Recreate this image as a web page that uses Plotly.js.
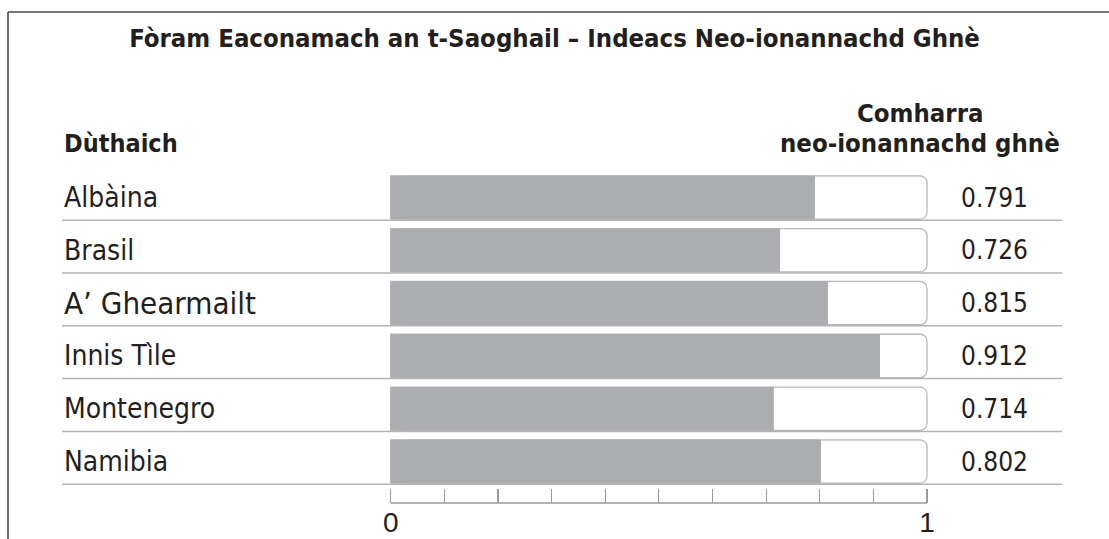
<!DOCTYPE html>
<html>
<head>
<meta charset="utf-8">
<script src="https://cdn.plot.ly/plotly-3.0.1.min.js"></script>
<style>
  html, body { margin: 0; padding: 0; background: #fff; }
  #chart { width: 1109px; height: 539px; }
</style>
</head>
<body>
<div id="chart"></div>
<script>
// ---- data ----
const chartTitle = "Fòram Eaconamach an t-Saoghail – Indeacs Neo-ionannachd Ghnè";
const categoryHeader = "Dùthaich";
const valueHeaderLines = ["Comharra", "neo-ionannachd ghnè"];
const countries = ["Albàina", "Brasil", "A’ Ghearmailt", "Innis Tìle", "Montenegro", "Namibia"];
const scores = [0.791, 0.726, 0.815, 0.912, 0.714, 0.802];
const scaleMax = 1;
const tickValues = [0, 0.1, 0.2, 0.3, 0.4, 0.5, 0.6, 0.7, 0.8, 0.9, 1];
const tickLabels = ["0", "", "", "", "", "", "", "", "", "", "1"];

// ---- styling ----
const W = 1109, H = 539;
const px = v => v / W;            // pixel x -> paper
const py = v => 1 - v / H;        // pixel y -> paper
const textColor = "#231f20";
const barGray = "#acadb0";
const trackLine = "#b8b8b8";
const sepColor = "#b3b3b3";
const font = "DejaVu Sans Condensed, DejaVu Sans, Noto Sans, sans-serif";
const labelSize = {"A’ Ghearmailt": 31};
const squareInset = 0.02;

const trackTrace = {
  type: "bar", orientation: "h",
  y: countries, x: countries.map(() => scaleMax),
  width: 0.82,
  marker: { color: "#ffffff", line: { color: trackLine, width: 1.3 }, cornerradius: 7 },
  hoverinfo: "skip", showlegend: false
};
const fillTrace = {
  type: "bar", orientation: "h",
  y: countries, x: scores,
  width: 0.82,
  marker: { color: barGray, line: { width: 0 }, cornerradius: 7 },
  hoverinfo: "skip", showlegend: false
};
const squareTrace = {
  type: "bar", orientation: "h",
  y: countries, x: scores.map(v => v - squareInset), base: squareInset,
  width: 0.82,
  marker: { color: barGray, line: { width: 0 } },
  hoverinfo: "skip", showlegend: false
};

const annotations = [];
countries.forEach((c, i) => {
  annotations.push({
    xref: "paper", yref: "y", x: px(62), y: c, xanchor: "left", yanchor: "middle",
    text: c, showarrow: false,
    font: { family: font, size: labelSize[c] || 28, color: textColor }
  });
  annotations.push({
    xref: "paper", yref: "y", x: px(995), y: c, xanchor: "center", yanchor: "middle",
    text: scores[i].toFixed(3), showarrow: false,
    font: { family: font, size: 26, color: textColor }
  });
});
annotations.push({
  xref: "paper", yref: "paper", x: px(62), y: py(143), xanchor: "left", yanchor: "middle",
  text: "<b>" + categoryHeader + "</b>", showarrow: false,
  font: { family: font, size: 25, color: textColor }
});
annotations.push({
  xref: "paper", yref: "paper", x: px(920), y: py(113), xanchor: "center", yanchor: "middle",
  text: "<b>" + valueHeaderLines[0] + "</b>", showarrow: false,
  font: { family: font, size: 25.5, color: textColor }
});
annotations.push({
  xref: "paper", yref: "paper", x: px(920), y: py(143), xanchor: "center", yanchor: "middle",
  text: "<b>" + valueHeaderLines[1] + "</b>", showarrow: false,
  font: { family: font, size: 25.5, color: textColor }
});

const shapes = [];
// outer frame (top + left)
shapes.push({ type: "line", xref: "paper", yref: "paper", x0: px(8), x1: 1, y0: py(12), y1: py(12),
  line: { color: "#4a4a4a", width: 1.6 } });
shapes.push({ type: "line", xref: "paper", yref: "paper", x0: px(8), x1: px(8), y0: py(12), y1: 0,
  line: { color: "#4a4a4a", width: 1.6 } });
// row separators
countries.forEach((c, i) => {
  shapes.push({ type: "line", xref: "paper", yref: "y", x0: px(62), x1: px(1062), y0: i + 0.43, y1: i + 0.43,
    line: { color: sepColor, width: 1.5 } });
});
// axis baseline
shapes.push({ type: "line", xref: "x", yref: "paper", x0: tickValues[0], x1: tickValues[tickValues.length - 1],
  y0: py(503), y1: py(503), line: { color: "#9a9a9a", width: 1.3 } });

const layout = {
  width: W, height: H,
  margin: { l: 0, r: 0, t: 0, b: 0 },
  paper_bgcolor: "#fff", plot_bgcolor: "rgba(0,0,0,0)",
  barmode: "overlay",
  showlegend: false,
  hovermode: false,
  title: {
    text: "<b>" + chartTitle + "</b>",
    x: 0.5, xanchor: "center", xref: "paper",
    y: py(38), yanchor: "middle", yref: "container",
    font: { family: font, size: 25.5, color: textColor }
  },
  xaxis: {
    domain: [px(388.55), px(929.15)],
    range: [-0.004, 1.004],
    anchor: "free", position: py(503),
    showgrid: false, zeroline: false, showline: false,
    ticks: "inside", ticklen: 14, tickwidth: 1.2, tickcolor: "#9a9a9a",
    tickvals: tickValues, ticktext: tickLabels,
    tickfont: { family: "Liberation Sans, Arial, sans-serif", size: 28, color: textColor },
    fixedrange: true
  },
  yaxis: {
    domain: [py(487.9), py(171.1)],
    range: [5.5, -0.5],
    type: "category",
    showticklabels: false, showgrid: false, zeroline: false, showline: false, ticks: "",
    fixedrange: true
  },
  annotations: annotations,
  shapes: shapes
};

Plotly.newPlot("chart", [trackTrace, fillTrace, squareTrace], layout, { staticPlot: true, displayModeBar: false });
</script>
</body>
</html>
